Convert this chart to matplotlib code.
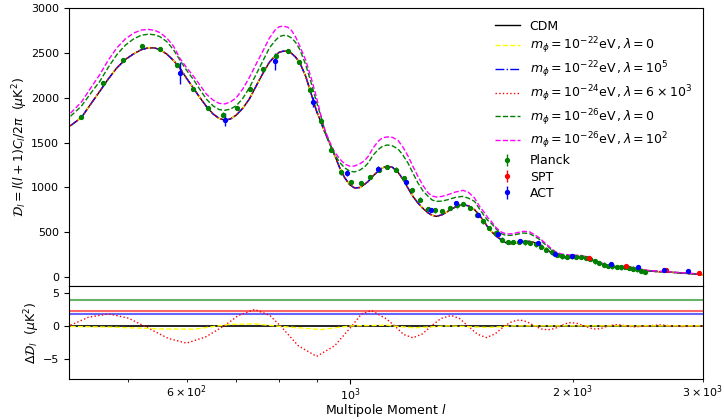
import numpy as np
import matplotlib.pyplot as plt

# theory curves, D_l in muK^2
ell = [418, 425, 433, 445, 458, 470, 483, 496, 509, 521, 533, 543, 552, 564, 576, 588,
       600, 613, 626, 639, 652, 664, 676, 688, 701, 715, 730, 745, 763, 777, 791, 801,
       811, 822, 832, 843, 854, 870, 886, 900, 913, 923, 933, 943, 952, 967, 982, 998,
       1013, 1030, 1045, 1057, 1073, 1090, 1105, 1122, 1140, 1160, 1178, 1197, 1215,
       1234, 1254, 1274, 1290, 1307, 1330, 1355, 1388, 1420, 1445, 1472, 1495, 1519,
       1535, 1551, 1575, 1600, 1617, 1634, 1660, 1685, 1715, 1747, 1775, 1803, 1825,
       1850, 1873, 1898, 1930, 1969, 2010, 2052, 2085, 2117, 2150, 2184, 2230, 2276,
       2325, 2373, 2420, 2474, 2525, 2578, 2630, 2688, 2740, 2802, 2900, 3000]

dl_cdm = [1691, 1735, 1789, 1930, 2075, 2210, 2337, 2430, 2493, 2538, 2560, 2558, 2541,
          2490, 2420, 2330, 2220, 2110, 2000, 1900, 1820, 1772, 1752, 1765, 1810, 1885,
          1990, 2130, 2290, 2400, 2470, 2510, 2522, 2520, 2500, 2455, 2393, 2240, 2030,
          1850, 1720, 1620, 1530, 1440, 1360, 1220, 1110, 1030, 995, 1000, 1035, 1069,
          1130, 1181, 1220, 1237, 1225, 1170, 1090, 990, 900, 827, 765, 716, 690, 678,
          695, 734, 785, 808, 795, 752, 690, 610, 555, 510, 455, 417, 390, 372, 375, 387,
          396, 398, 385, 361, 330, 297, 268, 241, 222, 212, 214, 219, 210, 193, 170, 145,
          125, 112, 108, 107, 98, 82, 70, 63, 59, 56, 51, 45, 36, 26]

dl_m26_l0 = [1796, 1850, 1915, 2050, 2187, 2340, 2485, 2590, 2660, 2700, 2712, 2705, 2685,
             2630, 2540, 2420, 2310, 2206, 2090, 1982, 1910, 1870, 1862, 1875, 1915, 1995,
             2115, 2260, 2430, 2560, 2640, 2685, 2698, 2695, 2670, 2620, 2541, 2370, 2150,
             1950, 1780, 1640, 1530, 1440, 1370, 1280, 1220, 1182, 1174, 1195, 1230, 1275,
             1360, 1423, 1460, 1475, 1465, 1430, 1360, 1270, 1160, 1051, 960, 901, 860, 845,
             848, 864, 890, 901, 880, 845, 760, 678, 630, 600, 535, 485, 470, 465, 468, 480,
             492, 485, 455, 420, 380, 342, 300, 270, 246, 236, 233, 230, 218, 201, 175, 150,
             128, 115, 112, 110, 100, 85, 72, 66, 61, 58, 53, 47, 38, 28]

dl_m26_l1e2 = [1830, 1890, 1960, 2110, 2262, 2420, 2560, 2660, 2725, 2758, 2765, 2755, 2730,
               2670, 2580, 2440, 2340, 2243, 2140, 2038, 1975, 1940, 1933, 1955, 2005, 2100,
               2230, 2375, 2540, 2670, 2760, 2795, 2802, 2790, 2755, 2680, 2578, 2420, 2206,
               2000, 1790, 1650, 1550, 1460, 1395, 1320, 1262, 1238, 1240, 1265, 1300, 1348,
               1440, 1516, 1555, 1565, 1560, 1525, 1450, 1348, 1235, 1125, 1020, 939, 905,
               894, 900, 920, 950, 968, 945, 883, 790, 716, 660, 622, 550, 503, 488, 481, 485,
               498, 510, 505, 473, 435, 395, 353, 312, 280, 257, 248, 245, 241, 228, 210, 183,
               158, 135, 120, 117, 115, 105, 88, 75, 70, 64, 60, 55, 50, 40, 30]

# binned data
planck_l = [432, 462, 492, 522, 552, 582, 612, 642, 672, 702, 732, 762, 792, 822, 852, 882,
            912, 942, 972, 1002, 1032, 1062, 1092, 1122, 1152, 1182, 1212, 1242, 1272, 1302,
            1332, 1362, 1392, 1422, 1452, 1482, 1512, 1542, 1572, 1602, 1632, 1662, 1692,
            1722, 1752, 1782, 1812, 1842, 1872, 1902, 1932, 1962, 1992, 2022, 2052, 2082,
            2112, 2142, 2172, 2202, 2232, 2262, 2292, 2322, 2352, 2382, 2412, 2442, 2472, 2502]
planck_dl = [1789, 2169, 2422, 2578, 2549, 2366, 2102, 1889, 1815, 1885, 2102, 2318, 2466,
             2522, 2400, 2094, 1747, 1423, 1170, 1060, 1051, 1120, 1200, 1230, 1200, 1107,
             968, 864, 761, 745, 733, 771, 800, 816, 771, 697, 622, 548, 492, 417, 391, 391,
             395, 387, 380, 365, 340, 305, 275, 245, 232, 228, 230, 225, 222, 215, 200, 175,
             155, 140, 125, 118, 112, 108, 110, 100, 95, 85, 70, 56]
planck_err = 25

spt_l = [2100, 2360, 2670, 2965]
spt_dl = [212, 128, 80, 50]
spt_err = [8, 7, 6, 6]

act_l = [588, 676, 790, 890, 988, 1090, 1188, 1287, 1390, 1488, 1583, 1694, 1793, 1889,
         1995, 2250, 2450, 2660, 2860]
act_dl = [2281, 1759, 2410, 1957, 1163, 1211, 1058, 752, 830, 689, 484, 406, 380, 260,
          230, 147, 110, 75, 63]
act_err = [120, 75, 93, 55, 30, 25, 20, 15, 15, 12, 10, 10, 10, 8, 8, 8, 7, 7, 7]

# residuals with respect to CDM
res_l_m24 = [418, 442, 471, 501, 533, 567, 600, 636, 676, 705, 742, 778, 807, 850, 900,
             952, 1003, 1035, 1068, 1118, 1148, 1180, 1215, 1252, 1287, 1325, 1369, 1405,
             1442, 1485, 1527, 1570, 1616, 1655, 1694, 1735, 1774, 1812, 1850, 1890, 1928,
             1958, 1989, 2030, 2074, 2112, 2150, 2190, 2229, 2300, 2360, 2423, 2526, 2632,
             2720, 2802, 2981]
res_m24 = [0.1, 1.3, 1.8, 1.15, -0.36, -1.9, -2.6, -1.7, 0.05, 1.56, 2.47, 1.56, -0.2, -3.0,
           -4.6, -3.0, -0.1, 1.8, 2.3, 1.06, 0.0, -1.3, -1.8, -1.2, 0.0, 1.1, 1.56, 1.1, 0.0,
           -1.25, -1.77, -1.2, 0.0, 0.65, 0.9, 0.6, 0.0, -0.45, -0.6, -0.4, 0.0, 0.35, 0.5,
           0.35, 0.0, -0.35, -0.5, -0.35, 0.0, 0.2, 0.0, -0.15, 0.0, 0.15, 0.0, -0.1, 0.0]

res_l_m22 = [418, 476, 555, 615, 683, 742, 807, 913, 1003, 1124, 1136, 1220, 1355, 1535,
             1666, 2000, 2500, 3000]
res_m22 = [-0.1, -0.2, -0.46, -0.5, 0.2, 0.3, -0.1, -0.56, 0.0, 0.1, 0.0, -0.3, 0.0, -0.25,
           0.0, 0.0, 0.0, 0.0]

band_levels = [3.88, 2.2, 1.86]
band_colors = ['green', 'red', 'blue']

labels = ['CDM',
          r'$m_\phi=10^{-22}\mathrm{eV}\,,\lambda=0$',
          r'$m_\phi=10^{-22}\mathrm{eV}\,,\lambda=10^5$',
          r'$m_\phi=10^{-24}\mathrm{eV}\,,\lambda=6\times10^3$',
          r'$m_\phi=10^{-26}\mathrm{eV}\,,\lambda=0$',
          r'$m_\phi=10^{-26}\mathrm{eV}\,,\lambda=10^2$']

fig = plt.figure(figsize=(7.24, 4.19), dpi=100)
ax1 = fig.add_axes([0.0953, 0.3174, 0.8757, 0.6626])
ax2 = fig.add_axes([0.0953, 0.0955, 0.8757, 0.2219], sharex=ax1)

ax1.plot(ell, dl_cdm, '-', color='black', lw=1, label=labels[0])
ax1.plot(ell, dl_cdm, '--', color='yellow', lw=1, label=labels[1])
ax1.plot(ell, dl_cdm, '-.', color='blue', lw=1, label=labels[2])
ax1.plot(ell, dl_cdm, ':', color='red', lw=1, label=labels[3])
ax1.plot(ell, dl_m26_l0, '--', color='green', lw=1, label=labels[4])
ax1.plot(ell, dl_m26_l1e2, '--', color='magenta', lw=1, label=labels[5])

ax1.errorbar(planck_l, planck_dl, yerr=planck_err, fmt='o', color='green', ms=2.8,
             elinewidth=1, label='Planck')
ax1.errorbar(spt_l, spt_dl, yerr=spt_err, fmt='o', color='red', ms=2.8,
             elinewidth=1, label='SPT')
ax1.errorbar(act_l, act_dl, yerr=act_err, fmt='o', color='blue', ms=2.8,
             elinewidth=1, label='ACT')

ax1.set_xscale('log')
ax1.set_xlim(416, 3000)
ax1.set_ylim(-100, 3000)
ax1.set_ylabel(r'$\mathcal{D}_l=l(l+1)C_l/2\pi\ \ (\mu\mathrm{K}^2)$', fontsize=9, labelpad=1)
ax1.tick_params(axis='x', which='both', labelbottom=False)
ax1.tick_params(axis='y', labelsize=8)
ax1.legend(loc='upper right', frameon=False, fontsize=9, labelspacing=0.25)

for lev, col in zip(band_levels, band_colors):
    ax2.axhline(lev, color=col, lw=1.5, alpha=0.6)
ax2.axhline(0, color='black', lw=1.2)
ax2.plot(res_l_m24, res_m24, ':', color='red', lw=1)
ax2.plot(res_l_m22, res_m22, '--', color='yellow', lw=1)
ax2.set_ylim(-8, 6)
ax2.set_yticks([-5, 0, 5])
ax2.tick_params(axis='both', which='both', labelsize=8)
ax2.tick_params(axis='x', which='both', pad=1.5)
ax2.set_ylabel(r'$\Delta\mathcal{D}_l\ \ (\mu\mathrm{K}^2)$', fontsize=9, labelpad=1)
ax2.set_xlabel('Multipole Moment $l$', fontsize=9)
ax2.xaxis.set_label_coords(0.5, -0.245)

fig.savefig('out.png', dpi=100)
